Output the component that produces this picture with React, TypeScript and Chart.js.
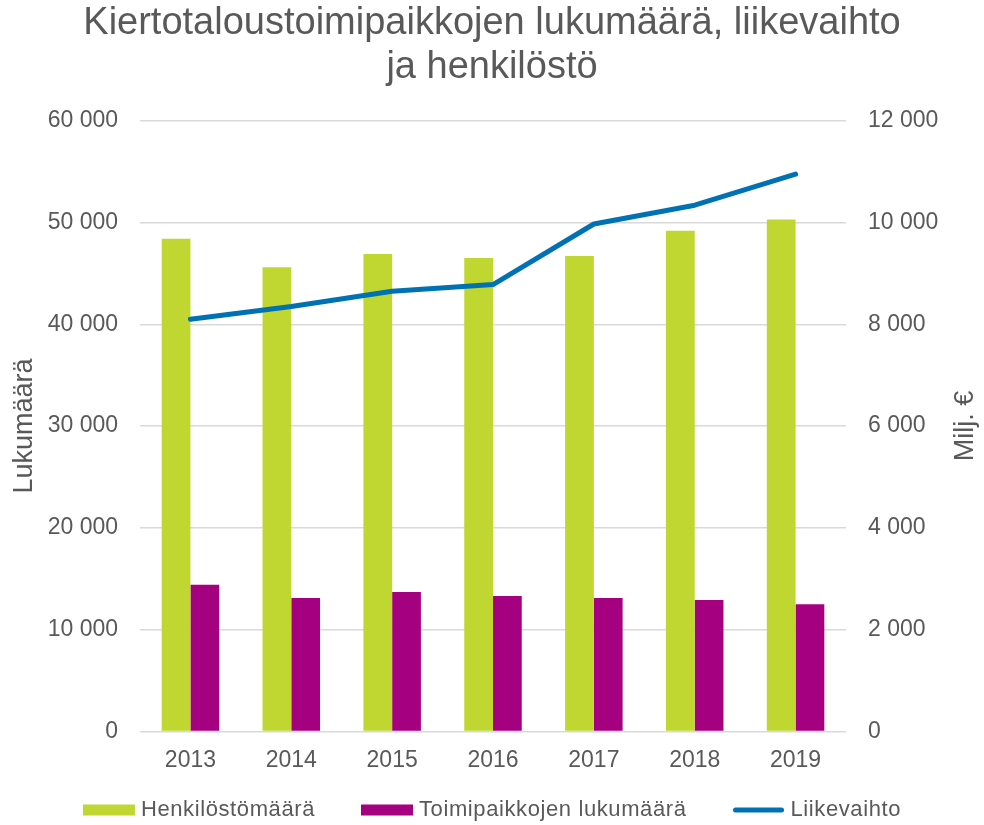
import { useEffect, useRef } from 'react';
import { Chart, registerables } from 'chart.js';

Chart.register(...registerables);

const years = ['2013', '2014', '2015', '2016', '2017', '2018', '2019'];
const henkilostomaara = [48400, 45600, 46900, 46500, 46700, 49200, 50300];
const toimipaikkojenLukumaara = [14400, 13100, 13700, 13300, 13100, 12900, 12500];
const liikevaihto = [8100, 8350, 8650, 8780, 9970, 10340, 10950];

const titleLines = ['Kiertotaloustoimipaikkojen lukumäärä, liikevaihto', 'ja henkilöstö'];
const leftAxisTitle = 'Lukumäärä';
const rightAxisTitle = 'Milj. €';
const seriesNames = ['Henkilöstömäärä', 'Toimipaikkojen lukumäärä', 'Liikevaihto'];

const GREEN = '#BFD730';
const PURPLE = '#A4007F';
const BLUE = '#0072B4';
const TEXT = '#595959';
const GRID = '#D9D9D9';
const FONT = "'Liberation Sans', Arial, sans-serif";

const fmt = (v: number | string) =>
  String(v).replace(/\B(?=(\d{3})+(?!\d))/g, ' ');

export default function App() {
  const ref = useRef<HTMLCanvasElement>(null);

  useEffect(() => {
    document.body.style.margin = '0';
    const canvas = ref.current;
    if (!canvas) return;

    const extrasPlugin = {
      id: 'extras',
      afterDraw(chart: any) {
        const { ctx, chartArea, width, height } = chart;
        // right axis title (reads bottom to top)
        ctx.save();
        ctx.fillStyle = TEXT;
        ctx.font = `27px ${FONT}`;
        ctx.textAlign = 'center';
        ctx.textBaseline = 'middle';
        ctx.translate(966, (chartArea.top + chartArea.bottom) / 2);
        ctx.rotate(-Math.PI / 2);
        ctx.fillText(rightAxisTitle, 0, 0);
        ctx.restore();

        // legend
        ctx.save();
        ctx.font = `22px ${FONT}`;
        try {
          (ctx as any).letterSpacing = '0.6px';
        } catch (e) {}
        const boxW = 52;
        const boxH = 11;
        const gapText = 6;
        const gapItem = 46;
        const colors = chart.data.datasets.map((d: any) =>
          d.type === 'line' ? d.borderColor : d.backgroundColor
        );
        const widths = chart.data.datasets.map(
          (d: any) => boxW + gapText + ctx.measureText(d.label).width
        );
        const total = widths.reduce((a: number, b: number) => a + b, 0) + gapItem * (widths.length - 1);
        let x = (width - total) / 2;
        const cy = height - 15;
        chart.data.datasets.forEach((d: any, i: number) => {
          if (d.type === 'line') {
            ctx.strokeStyle = colors[i];
            ctx.lineWidth = 5;
            ctx.lineCap = 'round';
            ctx.beginPath();
            ctx.moveTo(x + 3, cy);
            ctx.lineTo(x + boxW - 3, cy);
            ctx.stroke();
          } else {
            ctx.fillStyle = colors[i];
            ctx.fillRect(x, cy - boxH / 2, boxW, boxH);
          }
          ctx.fillStyle = TEXT;
          ctx.textAlign = 'left';
          ctx.textBaseline = 'middle';
          ctx.fillText(d.label, x + boxW + gapText, cy);
          x += widths[i] + gapItem;
        });
        ctx.restore();
      },
    };

    const chart = new Chart(canvas, {
      type: 'bar',
      data: {
        labels: years,
        datasets: [
          {
            type: 'bar',
            label: seriesNames[0],
            data: henkilostomaara,
            backgroundColor: GREEN,
            yAxisID: 'y',
            order: 1,
            categoryPercentage: 0.57,
            barPercentage: 1,
          } as any,
          {
            type: 'bar',
            label: seriesNames[1],
            data: toimipaikkojenLukumaara,
            backgroundColor: PURPLE,
            yAxisID: 'y',
            order: 1,
            categoryPercentage: 0.57,
            barPercentage: 1,
          } as any,
          {
            type: 'line',
            label: seriesNames[2],
            data: liikevaihto,
            borderColor: BLUE,
            backgroundColor: BLUE,
            borderWidth: 5,
            borderCapStyle: 'round',
            borderJoinStyle: 'round',
            pointRadius: 0,
            pointHoverRadius: 0,
            tension: 0,
            yAxisID: 'y1',
            order: 0,
          } as any,
        ],
      },
      options: {
        animation: false,
        responsive: true,
        maintainAspectRatio: false,
        layout: { padding: { top: 0, left: 0, right: 0, bottom: 36 } },
        font: { family: FONT },
        plugins: {
          title: {
            display: true,
            text: titleLines,
            color: TEXT,
            font: { family: FONT, size: 38, weight: 'normal', lineHeight: 1.15 },
            padding: { top: 2, bottom: 31.3 },
          },
          legend: { display: false },
          tooltip: { enabled: false },
        },
        scales: {
          x: {
            grid: { display: false, drawTicks: false },
            border: { display: false },
            ticks: { color: TEXT, font: { family: FONT, size: 23, lineHeight: 1.2 }, padding: 15 },
          },
          y: {
            position: 'left',
            min: 0,
            max: 60000,
            ticks: {
              stepSize: 10000,
              color: TEXT,
              font: { family: FONT, size: 23 },
              padding: 22,
              callback: (v: any) => fmt(v),
            },
            grid: { color: GRID, lineWidth: 1.5, drawTicks: false },
            border: { display: false },
            title: {
              display: true,
              text: leftAxisTitle,
              color: TEXT,
              font: { family: FONT, size: 27 },
              padding: { top: 8, bottom: 0 },
            },
            afterFit: (s: any) => {
              s.width = 140;
            },
          },
          y1: {
            position: 'right',
            min: 0,
            max: 12000,
            ticks: {
              stepSize: 2000,
              color: TEXT,
              font: { family: FONT, size: 23 },
              padding: 22,
              callback: (v: any) => fmt(v),
            },
            grid: { display: false, drawTicks: false },
            border: { display: false },
            afterFit: (s: any) => {
              s.width = 138;
            },
          },
        },
      } as any,
      plugins: [extrasPlugin],
    });

    return () => chart.destroy();
  }, []);

  return (
    <div style={{ width: 984, height: 825, position: 'relative' }}>
      <canvas ref={ref} />
    </div>
  );
}
